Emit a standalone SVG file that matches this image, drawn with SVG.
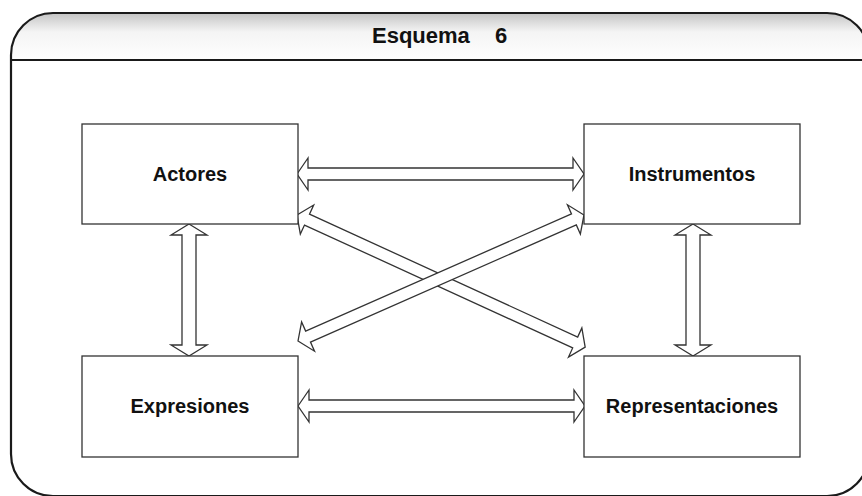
<svg xmlns="http://www.w3.org/2000/svg" width="862" height="496" viewBox="0 0 862 496">
<style>
.frame{fill:none;stroke:#1a1a1a;stroke-width:2.2}
.hline{stroke:#1a1a1a;stroke-width:1.8}
.box{fill:#fff;stroke:#333;stroke-width:1.3}
.lbl{font-family:"Liberation Sans",Arial,sans-serif;font-weight:bold;font-size:20px;fill:#111;text-anchor:middle}
.title{font-family:"Liberation Sans",Arial,sans-serif;font-weight:bold;font-size:22px;fill:#111}
.arr{fill:#fff;stroke:#333;stroke-width:1.3;stroke-linejoin:miter}
</style>
<defs>
<linearGradient id="hg" x1="0" y1="0" x2="0" y2="1">
<stop offset="0" stop-color="#c4c4c4"/>
<stop offset="0.4" stop-color="#f4f4f4"/>
<stop offset="1" stop-color="#ffffff"/>
</linearGradient>
</defs>
<rect width="862" height="496" fill="#fff"/>
<g id="frame">
<path d="M11,60 L11,55 A42,42 0 0 1 53,13 L827,13 A42,42 0 0 1 869,55 L869,60 Z" fill="url(#hg)" stroke="none"/>
<rect class="frame" x="11" y="13" width="858" height="483" rx="42" ry="42"/>
<line class="hline" x1="11" y1="60" x2="869" y2="60"/>
<text class="title" x="372" y="43" word-spacing="19">Esquema 6</text>
</g>
<g id="connectors">
<polygon class="arr" transform="translate(297,174)" points="0,0 11,-16 11,-6 276,-6 276,-16 287,0 276,16 276,6 11,6 11,16"/>
<polygon class="arr" transform="translate(298,406)" points="0,0 11,-16 11,-6 276,-6 276,-16 287,0 276,16 276,6 11,6 11,16"/>
<polygon class="arr" transform="translate(189,224) rotate(90)" points="0,0 11,-18 11,-7 121,-7 121,-18 132,0 121,18 121,7 11,7 11,18"/>
<polygon class="arr" transform="translate(693,224) rotate(90)" points="0,0 11,-18 11,-7 121,-7 121,-18 132,0 121,18 121,7 11,7 11,18"/>
<polygon class="arr" transform="translate(297,215) rotate(24.62)" points="0,0 11,-16 11,-6 306,-6 306,-16 317,0 306,16 306,6 11,6 11,16"/>
<polygon class="arr" transform="translate(298,341) rotate(-23.78)" points="0,0 11,-16 11,-6 301.5,-6 301.5,-16 312.5,0 301.5,16 301.5,6 11,6 11,16"/>
</g>
<g id="actores">
<rect class="box" x="82" y="124" width="216" height="100"/>
<text class="lbl" x="190" y="181">Actores</text>
</g>
<g id="instrumentos">
<rect class="box" x="584" y="124" width="216" height="100"/>
<text class="lbl" x="692" y="181">Instrumentos</text>
</g>
<g id="expresiones">
<rect class="box" x="82" y="356" width="216" height="101"/>
<text class="lbl" x="190" y="413">Expresiones</text>
</g>
<g id="representaciones">
<rect class="box" x="584" y="356" width="216" height="101"/>
<text class="lbl" x="692" y="413">Representaciones</text>
</g>
</svg>
